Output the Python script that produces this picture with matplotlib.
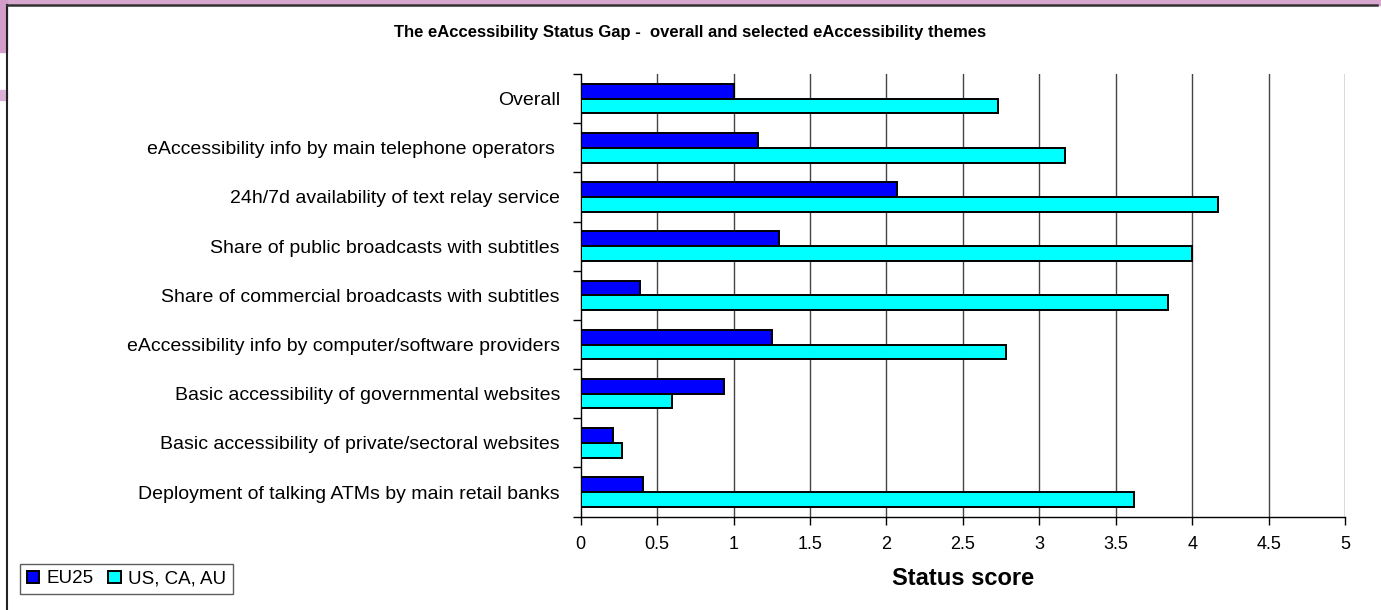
import matplotlib.pyplot as plt
import numpy as np
from matplotlib.patches import Rectangle
from matplotlib.lines import Line2D

plt.rcParams['font.family'] = ['Liberation Sans', 'DejaVu Sans']

categories = [
    "Overall",
    "eAccessibility info by main telephone operators ",
    "24h/7d availability of text relay service",
    "Share of public broadcasts with subtitles",
    "Share of commercial broadcasts with subtitles",
    "eAccessibility info by computer/software providers",
    "Basic accessibility of governmental websites",
    "Basic accessibility of private/sectoral websites",
    "Deployment of talking ATMs by main retail banks",
]
eu25 = [1.0, 1.16, 2.07, 1.30, 0.39, 1.25, 0.935, 0.21, 0.41]
us_ca_au = [2.73, 3.17, 4.17, 4.0, 3.84, 2.78, 0.60, 0.27, 3.62]
series_names = ["EU25", "US, CA, AU"]
xticks = [0, 0.5, 1, 1.5, 2, 2.5, 3, 3.5, 4, 4.5, 5]
xtick_labels = ["0", "0.5", "1", "1.5", "2", "2.5", "3", "3.5", "4", "4.5", "5"]

fig = plt.figure(figsize=(13.81, 6.10), dpi=100)

# decorative purple background behind the frame (top-left)
fig.patches.append(Rectangle((0, 1 - 5 / 610), 1, 5 / 610, transform=fig.transFigure,
                             color='#d9a8d0', zorder=0))
fig.patches.append(Rectangle((0, 1 - 52 / 610), 7 / 1381, 52 / 610, transform=fig.transFigure,
                             color='#d49cc9', zorder=0))
fig.patches.append(Rectangle((0, 1 - 100 / 610), 7 / 1381, 10 / 610, transform=fig.transFigure,
                             color='#dcb0d6', zorder=0))
# frame lines
fig.lines.append(Line2D([7 / 1381, 7 / 1381], [0, 1 - 5 / 610], transform=fig.transFigure,
                        color='#222222', lw=1.5))
fig.lines.append(Line2D([7 / 1381, 1377 / 1381], [1 - 5 / 610, 1 - 5 / 610], transform=fig.transFigure,
                        color='#333333', lw=1.8))

ax = fig.add_axes([0.4205, 0.153, 0.5535, 0.7257])

y = np.arange(len(categories))
h = 0.3
b1 = ax.barh(y - h / 2, eu25, height=h, color='#0000ff', edgecolor='black', lw=1.4,
             label=series_names[0], zorder=3)
b2 = ax.barh(y + h / 2, us_ca_au, height=h, color='#00ffff', edgecolor='black', lw=1.4,
             label=series_names[1], zorder=3)

ax.set_ylim(len(categories) - 0.5, -0.5)
ax.set_xlim(0, 5)
ax.set_xticks(xticks)
ax.set_xticklabels(xtick_labels, fontsize=13)
ax.set_yticks(y)
ax.set_yticklabels(categories, fontsize=14)
ax.tick_params(axis='y', length=0, pad=15)
ax.set_yticks(np.arange(-0.5, len(categories)), minor=True)
ax.tick_params(axis='y', which='minor', length=6, width=1)
ax.tick_params(axis='x', length=6, width=1, pad=8)

for s in ['top', 'right']:
    ax.spines[s].set_visible(False)
ax.spines['left'].set_linewidth(1)
ax.spines['bottom'].set_linewidth(1)

for xv in xticks[1:]:
    ax.axvline(xv, color='#444444', lw=1, zorder=1)

ax.set_xlabel("Status score", fontsize=17, fontweight='bold', labelpad=10)

fig.text(0.5, 1 - 32 / 610, "The eAccessibility Status Gap -  overall and selected eAccessibility themes",
         ha='center', va='center', fontsize=12, fontweight='bold')

leg = fig.legend(handles=[b1, b2], loc='lower left', bbox_to_anchor=(20 / 1381, 1 - 594 / 610),
                 ncol=2, fontsize=13.5, frameon=True, fancybox=False, handlelength=0.65,
                 handleheight=0.65, handletextpad=0.4, columnspacing=0.8, borderpad=0.35,
                 borderaxespad=0)
leg.get_frame().set_edgecolor('#333333')
leg.get_frame().set_linewidth(1)

fig.savefig("out.png", dpi=100)
